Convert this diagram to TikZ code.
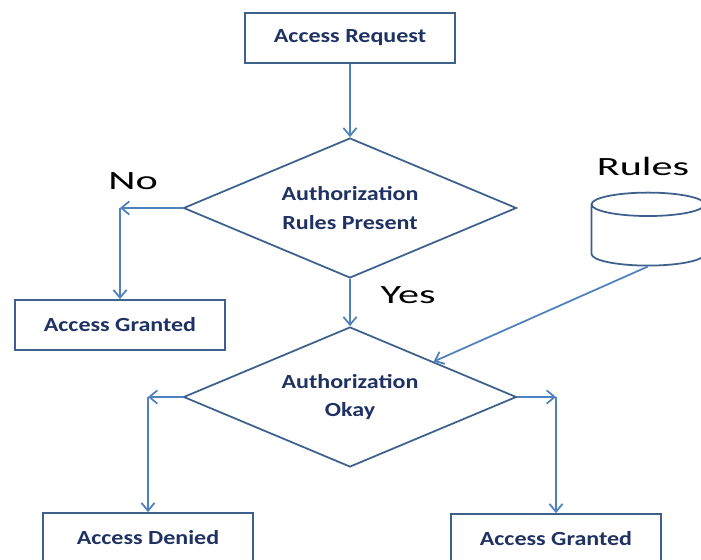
\documentclass[tikz,border=0pt]{standalone}
\usepackage{fontspec}
\setmainfont{Carlito}
\newfontfamily\boxfont[FakeStretch=1.2]{Carlito}
\newfontfamily\lblfont[FakeStretch=1.6]{Carlito}
\usetikzlibrary{shapes.geometric,arrows.meta}
\definecolor{edgeblue}{RGB}{62,96,140}
\definecolor{arrowblue}{RGB}{79,129,189}
\definecolor{textnavy}{RGB}{31,50,99}

\begin{document}
\begin{tikzpicture}
    [x=0.02cm,y=-0.02cm,
     box/.style={rectangle,draw=edgeblue,line width=1pt,minimum width=4.2cm,minimum height=1cm,
       font=\boxfont\bfseries\fontsize{11.4}{16}\selectfont,text=textnavy},
     decision/.style={diamond,aspect=2.4,draw=edgeblue,line width=1pt,minimum width=6.66cm,minimum height=2.8cm,
       inner sep=0pt,align=center,font=\boxfont\bfseries\fontsize{11.4}{16}\selectfont,text=textnavy},
     store/.style={cylinder,shape border rotate=90,draw=edgeblue,line width=1pt,aspect=2,
       minimum width=2.26cm,minimum height=1.46cm},
     lbl/.style={font=\lblfont\fontsize{15}{17}\selectfont,text=black},
     arr/.style={draw=arrowblue,line width=1pt,-{Straight Barb[length=4.5pt,width=7.5pt]}}]
    \useasboundingbox (0,0) rectangle (701,560);
    \clip (0,0) rectangle (701,560);
    \node[box] (req) at (350,38) {Access Request};
    \node[decision] (rp) at (350,208) {Authorization\\Rules Present};
    \node[box] (gr1) at (120,325) {Access Granted};
    \node[decision] (ok) at (350,397) {Authorization\\Okay};
    \node[box] (den) at (148,538) {Access Denied};
    \node[box] (gr2) at (556,539) {Access Granted};
    \node[store] (rules) at (648,238) {};
    \node[lbl] (no) at (133,181) {No};
    \node[lbl] (yes) at (408,295) {Yes};
    \node[lbl] (rl) at (643,166) {Rules};
    \coordinate (nc) at (120,208);
    \coordinate (lc) at (148,397);
    \coordinate (rc) at (556,397);
    \draw[arr] (req) -- (rp);
    \draw[arr] (rp.west) -- (nc);
    \draw[arr] (nc) -- (gr1);
    \draw[arr] (rp) -- (ok);
    \draw[arr] (ok.west) -- (lc);
    \draw[arr] (lc) -- (den);
    \draw[arr] (ok.east) -- (rc);
    \draw[arr] (rc) -- (gr2);
    \draw[arr] (rules.south) -- (ok.north east);
\end{tikzpicture}
\end{document}
